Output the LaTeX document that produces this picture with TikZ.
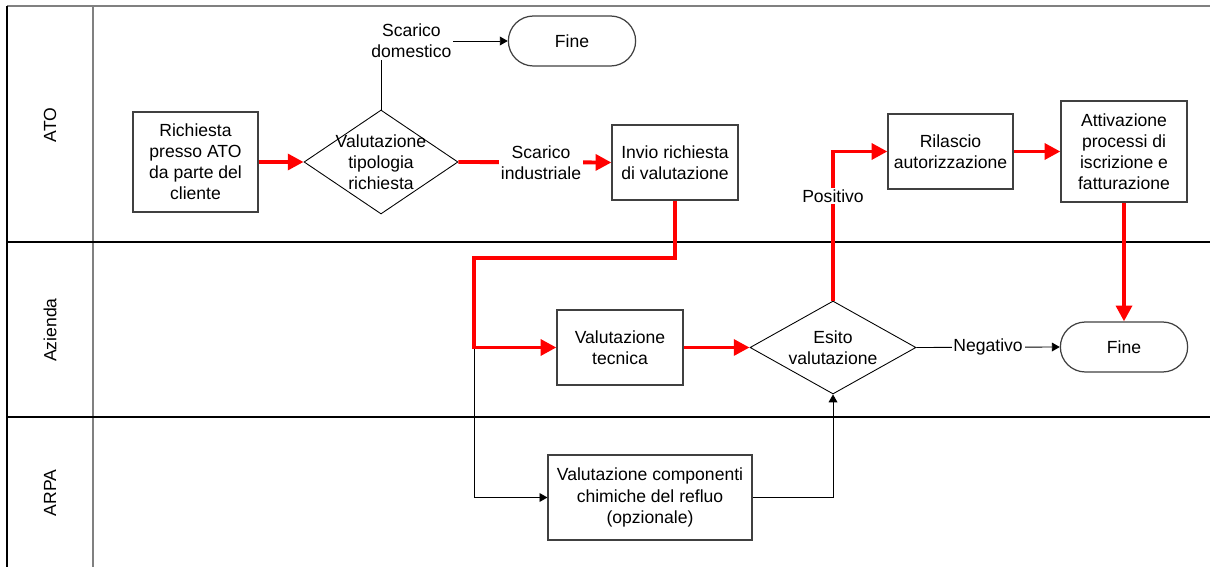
\documentclass[tikz,border=0pt]{standalone}
\usepackage{fontspec}
\setmainfont{Liberation Sans}
\usetikzlibrary{shapes.geometric,shapes.misc,arrows.meta}

\tikzset{
  box/.style={draw=black!75,line width=0.7pt,align=center,inner sep=2pt},
  dec/.style={draw=black,line width=0.5pt,shape=diamond,inner sep=0pt},
  term/.style={draw=black!75,line width=0.7pt,rounded rectangle,minimum width=2.78cm,minimum height=1cm},
  flow/.style={red,line width=2.2pt,-{Triangle[length=9pt,width=9pt]}},
  link/.style={black,line width=0.5pt,-{Triangle[length=4.5pt,width=5pt]}},
  tag/.style={fill=white,inner sep=1pt,align=center},
}

\begin{document}
\begin{tikzpicture}[x=0.02cm,y=-0.02cm]
   \useasboundingbox (0,0) rectangle (1210,567);

   % レーン
   \draw[gray,line width=0.8pt] (7,6) -- (1210,6);
   \draw[line width=0.6pt] (7,6) -- (7,567);
   \draw[gray,line width=0.8pt] (93,6) -- (93,567);
   \draw[line width=0.6pt] (7,242) -- (1210,242);
   \draw[line width=0.6pt] (7,417) -- (1210,417);
   \node[rotate=90] (lato) at (50,125) {ATO};
   \node[rotate=90] (lazienda) at (50,330) {Azienda};
   \node[rotate=90] (larpa) at (50,493) {ARPA};

   % ノード
   \node[box,minimum width=2.5cm,minimum height=2cm] (rich) at (195.5,162) {Richiesta\\presso ATO\\da parte del\\cliente};
   \node[dec,minimum width=3.08cm,minimum height=2.08cm,
         label={[align=center]center:Valutazione\\tipologia\\richiesta}] (tip) at (381,162) {};
   \node[term] (fine1) at (572,41) {Fine};
   \node[box,minimum width=2.52cm,minimum height=1.5cm] (invio) at (675,162.5) {Invio richiesta\\di valutazione};
   \node[box,minimum width=2.52cm,minimum height=1.5cm] (tec) at (620,347.5) {Valutazione\\tecnica};
   \node[dec,minimum width=3.32cm,minimum height=1.86cm,
         label={[align=center]center:Esito\\valutazione}] (esito) at (833,347.5) {};
   \node[box,minimum width=2.5cm,minimum height=1.5cm] (ril) at (950.5,151.5) {Rilascio\\autorizzazione};
   \node[box,minimum width=2.52cm,minimum height=2.02cm] (att) at (1124,151.5) {Attivazione\\processi di\\iscrizione e\\fatturazione};
   \node[term] (fine2) at (1124,347) {Fine};
   \node[box,minimum width=4.08cm,minimum height=1.7cm] (comp) at (650,497.5) {Valutazione componenti\\chimiche del refluo\\(opzionale)};

   \coordinate (s1) at (474,258);
   \coordinate (s2) at (474,347.5);

   % 矢印
   \draw[link] (tip.north) |- (fine1.west) node[tag,pos=0.62] {Scarico\\domestico};
   \draw[link] (s2) |- (comp.west);
   \draw[link] (comp.east) -| (esito.south);
   \draw[link] (esito.east) -- (fine2.west) node[tag,midway] {Negativo};

   \draw[flow] (rich.east) -- (tip.west);
   \draw[flow] (tip.east) -- (invio.west) node[tag,pos=0.54,text=black] {Scarico\\industriale};
   \draw[flow] (invio.south) |- (s1) |- (tec.west);
   \draw[flow] (tec.east) -- (esito.west);
   \draw[flow] (esito.north) |- (ril.west) node[tag,pos=0.35,text=black] {Positivo};
   \draw[flow] (ril.east) -- (att.west);
   \draw[flow] (att.south) -- (fine2.north);

\end{tikzpicture}
\end{document}
